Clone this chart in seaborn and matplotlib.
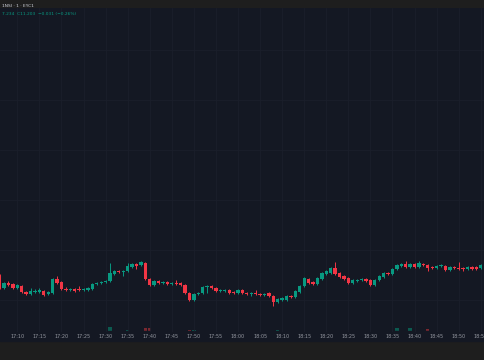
import numpy as np
import pandas as pd
import matplotlib
matplotlib.use("Agg")
import matplotlib.pyplot as plt
import seaborn as sns

# 1-minute candles, 17:06 -> 18:56 (prices in chart points)
times = pd.date_range("2024-01-01 17:06", periods=111, freq="min")
opens = [84, 72, 77, 76, 72, 74, 68, 66, 68, 68, 69, 66, 67, 81, 78, 71, 70, 71, 71, 70,
         70, 71, 76, 77, 78, 79, 86, 89, 88, 89, 93, 96, 95, 97, 81, 75, 79, 77, 78, 76,
         77, 77, 75, 67, 60, 66, 67, 73, 74, 72, 69, 69, 70, 68, 67, 70, 67, 66, 67, 66,
         65, 67, 64, 58, 60, 60, 64, 63, 68, 74, 81, 78, 76, 81, 86, 87, 92, 87, 84, 82,
         77, 79, 80, 81, 80, 75, 80, 83, 87, 86, 91, 94, 96, 93, 96, 93, 96, 95, 93, 92,
         94, 94, 90, 93, 92, 92, 91, 93, 93, 92, 94]
closes = [72, 77, 75, 72, 75, 68, 66, 69, 69, 70, 65, 68, 81, 77, 71, 70, 71, 69, 70, 71,
          72, 76, 77, 78, 79, 87, 89, 88, 89, 94, 96, 94, 98, 81, 75, 79, 77, 78, 76, 77,
          76, 75, 67, 60, 66, 67, 73, 74, 72, 69, 70, 70, 67, 67, 70, 67, 66, 67, 66, 65,
          66, 64, 58, 61, 62, 64, 63, 69, 74, 82, 77, 76, 82, 87, 89, 92, 86, 83, 81, 77,
          80, 80, 81, 79, 75, 80, 84, 87, 86, 91, 95, 96, 93, 96, 93, 97, 95, 92, 92, 94,
          95, 90, 93, 92, 91, 91, 93, 91, 91, 95, 97]
highs = [86, 78, 79, 77, 76, 75, 69, 72, 71, 72, 70, 69, 82, 84, 79, 73, 72, 72, 74, 72,
         73, 77, 78, 79, 80, 97, 90, 90, 90, 97, 97, 97, 99, 98, 82, 80, 80, 79, 79, 78,
         80, 78, 76, 68, 67, 68, 74, 75, 75, 73, 71, 71, 71, 69, 71, 71, 68, 68, 70, 67,
         67, 68, 65, 62, 63, 65, 65, 70, 75, 83, 82, 79, 83, 88, 90, 93, 98, 88, 85, 83,
         81, 81, 82, 82, 81, 81, 85, 88, 88, 92, 96, 97, 99, 97, 97, 99, 97, 96, 94, 95,
         96, 95, 94, 94, 98, 93, 94, 94, 94, 96, 98]
lows = [71, 71, 74, 71, 71, 67, 65, 65, 67, 67, 64, 65, 66, 76, 70, 69, 69, 68, 69, 69,
        69, 70, 75, 76, 77, 78, 85, 87, 84, 88, 92, 91, 94, 80, 74, 74, 76, 76, 75, 75,
        75, 74, 66, 59, 59, 65, 66, 67, 71, 68, 68, 68, 66, 66, 66, 66, 65, 64, 65, 64,
        64, 63, 54, 57, 59, 59, 62, 62, 67, 73, 76, 75, 75, 80, 85, 86, 85, 82, 80, 76,
        76, 78, 79, 78, 74, 74, 79, 82, 85, 85, 90, 93, 92, 92, 92, 92, 94, 89, 91, 91,
        93, 89, 89, 91, 90, 89, 90, 90, 90, 91, 93]
volumes = [12, 10, 8, 12, 10, 14, 9, 10, 6, 8, 12, 7, 15, 11, 9, 7, 5, 8, 6, 5,
           6, 9, 7, 6, 8, 48, 12, 8, 14, 16, 12, 8, 10, 40, 42, 14, 10, 6, 8, 6,
           9, 10, 12, 18, 16, 8, 10, 7, 6, 8, 5, 6, 9, 5, 8, 6, 14, 5, 8, 6,
           7, 9, 12, 16, 8, 10, 6, 9, 12, 14, 10, 8, 9, 10, 8, 9, 12, 10, 11, 15,
           8, 6, 5, 9, 14, 10, 8, 6, 9, 10, 40, 10, 12, 38, 10, 8, 12, 30, 10, 8,
           9, 12, 6, 8, 7, 9, 6, 8, 10, 12, 9]

BG = "#141823"
BAND = "#1e1e1e"
GRID = "#1b1f2b"
UP = "#089981"
DOWN = "#f23645"
UP_VOL = "#0c5a50"
DOWN_VOL = "#7a2830"

sns.set_theme(style="dark", rc={"axes.facecolor": BG, "figure.facecolor": BAND,
                                "axes.edgecolor": BG, "grid.color": GRID})

df = pd.DataFrame({"time": times, "open": opens, "close": closes,
                   "high": highs, "low": lows, "volume": volumes})
df["x"] = np.arange(len(df))
df["up"] = df["close"] >= df["open"]
df["body"] = (df["close"] - df["open"]).where((df["close"] - df["open"]).abs() > 0.7, 0.7)

fig = plt.figure(figsize=(4.85, 3.6), dpi=100)
# x-axis label strip keeps the chart background
fig.patches.append(plt.Rectangle((0, 19 / 360), 1, 10 / 360, transform=fig.transFigure,
                                 color=BG, zorder=0))
# price pane
ax = fig.add_axes([0, 28 / 360, 1, 324 / 360])

ax2 = ax.twinx()
ax2.patch.set_visible(True)
ax2.set_facecolor(BG)
ax2.bar(df["x"], df["volume"], width=0.75,
        color=np.where(df["up"], UP_VOL, DOWN_VOL), linewidth=0)
ax2.set_ylim(0, 3240)
ax2.set_yticks([])
ax2.grid(False)
for side in ax2.spines.values():
    side.set_visible(False)

ax.set_zorder(ax2.get_zorder() + 1)
ax.patch.set_visible(False)
colors = np.where(df["up"], UP, DOWN)
ax.vlines(df["x"], df["low"], df["high"], colors=colors, linewidth=0.7)
ax.bar(df["x"], df["body"], bottom=df["open"], width=0.75, color=colors, linewidth=0)

ax.set_xlim(0.08, 109.96)
ax.set_ylim(28, 352)
ax.set_yticks([60, 110, 160, 210, 260, 310])
ax.set_yticklabels([])
ax.tick_params(axis="y", length=0)

tick_idx = df.index[df["time"].dt.minute % 5 == 0]
ax.set_xticks(df.loc[tick_idx, "x"])
ax.set_xticklabels(df.loc[tick_idx, "time"].dt.strftime("%H:%M"),
                   fontsize=3.5, color="#9598a1")
ax.tick_params(axis="x", length=0, pad=1.5)
ax.grid(True, color=GRID, linewidth=0.6)
for side in ax.spines.values():
    side.set_visible(False)

fig.text(0.004, 0.99, "1NSI · 1 · EYC1", fontsize=3.2, color="#d1d4dc", va="top")
fig.text(0.004, 0.966, "7.234  C11.203  −0.031 (−0.26%)", fontsize=3.2,
         color=UP, va="top")

fig.savefig("out.png", dpi=100, facecolor=BAND)
